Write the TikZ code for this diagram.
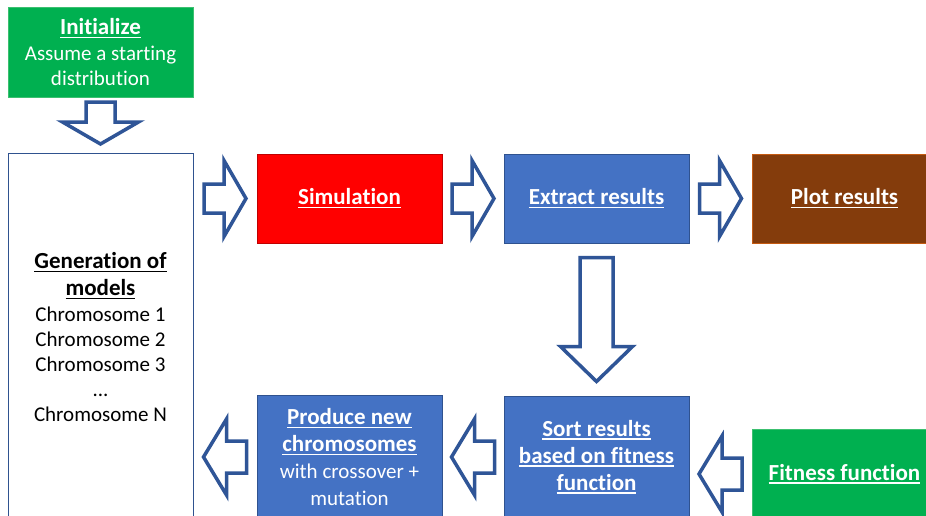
\documentclass[tikz,border=0pt]{standalone}
\usepackage{fontspec}
\setmainfont{Carlito}[Ligatures=CommonOff]
\usetikzlibrary{calc}
\definecolor{cgreen}{HTML}{00B050}
\definecolor{cgreenb}{HTML}{3CC070}
\definecolor{cred}{HTML}{FF0000}
\definecolor{credb}{HTML}{C00000}
\definecolor{cblue}{HTML}{4472C4}
\definecolor{cblueb}{HTML}{2F528F}
\definecolor{cbrown}{HTML}{843C0C}
\definecolor{cbrownb}{HTML}{C55A11}
\definecolor{carrow}{HTML}{2F5597}
\newcommand{\hd}[1]{\setbox0\hbox{\fontsize{23}{27}\selectfont\bfseries #1}\rlap{\copy0}\rule[-3.6pt]{\wd0}{1.4pt}}
\newcommand{\barrow}[6]{\draw[arrowline,shift={#1},rotate=#2] (-#3/2,-#6) -- ({#3/2-#4},-#6) -- ({#3/2-#4},-#5) -- ({#3/2},0) -- ({#3/2-#4},#5) -- ({#3/2-#4},#6) -- (-#3/2,#6) -- cycle;}
\begin{document}
\begin{tikzpicture}[x=1pt,y=-1pt,
  box/.style={minimum width=185pt, inner sep=0pt, align=center, text=white,
    font=\fontsize{21}{25}\selectfont, line width=0.8pt},
  greenbox/.style={box, fill=cgreen, draw=cgreenb},
  redbox/.style={box, fill=cred, draw=credb},
  bluebox/.style={box, fill=cblue, draw=cblueb},
  brownbox/.style={box, fill=cbrown, draw=cbrownb},
  genbox/.style={box, fill=white, draw=cblueb, text=black},
  arrowline/.style={draw=carrow, fill=white, line width=3.5pt, line join=miter}]
\path[use as bounding box, clip] (0,0) rectangle (926,515);
\fill[white] (0,0) rectangle (926,515);
\node[greenbox, minimum height=90pt] (init) at (100.5,52) {\hd{Initialize}\\[1pt]Assume a starting\\distribution};
\node[genbox, minimum height=368pt] (gen) at (100.5,337) {\hd{Generation of}\\[2pt]\hd{models}\\[1pt]Chromosome 1\\Chromosome 2\\Chromosome 3\\...\\Chromosome N};
\node[redbox, minimum height=89pt] (sim) at (349.5,198.5) {\hd{Simulation}};
\node[bluebox, minimum height=89pt] (ext) at (596.5,198.5) {\hd{Extract results}};
\node[brownbox, minimum height=89pt] (plot) at (844.5,198.5) {\hd{Plot results}};
\node[bluebox, minimum height=124pt] (prod) at (349.5,457) {\hd{Produce new}\\[2pt]\hd{chromosomes}\\[2pt]with crossover +\\[2pt]mutation};
\node[bluebox, minimum height=122pt] (sort) at (596.5,457) {\hd{Sort results}\\[2pt]\hd{based on fitness}\\[2pt]\hd{function}};
\node[greenbox, minimum height=90pt] (fit) at (844.5,474) {\hd{Fitness function}};
% block arrows
\barrow{($(init.south)!0.5!(gen.north)+(0,-2)$)}{-90}{42}{22}{38}{14.5}
\barrow{($(gen.east|-sim.west)!0.5!(sim.west)$)}{0}{42}{22}{38}{14.5}
\barrow{($(sim.east)!0.5!(ext.west)$)}{0}{42}{22}{38}{14.5}
\barrow{($(ext.east)!0.5!(plot.west)$)}{0}{42}{22}{38}{14.5}
\barrow{($(ext.south)!0.5!(sort.north)$)}{-90}{124}{35}{36}{16.5}
\barrow{($(gen.east|-prod.west)!0.5!(prod.west)$)}{180}{43}{23}{38}{16}
\barrow{($(prod.east)!0.5!(sort.west)$)}{180}{43}{23}{38}{16}
\barrow{($(sort.east|-fit.west)!0.5!(fit.west)$)}{180}{43}{23}{38}{16}
\end{tikzpicture}
\end{document}
